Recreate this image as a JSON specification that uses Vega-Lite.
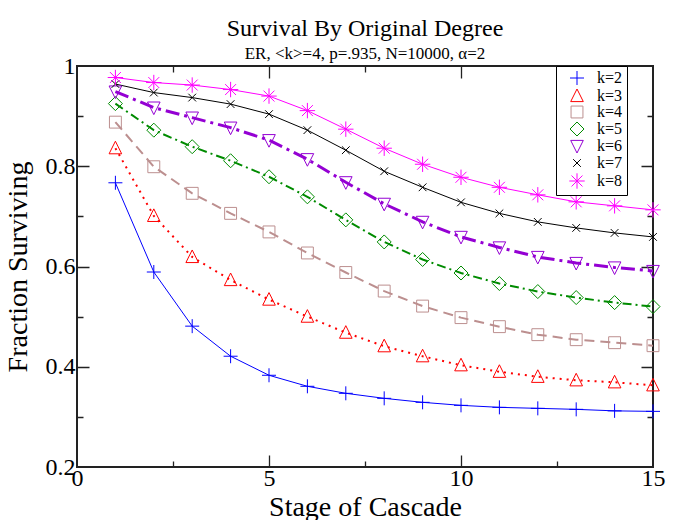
{
  "$schema": "https://vega.github.io/schema/vega-lite/v6.json",
  "width": 576,
  "height": 401,
  "autosize": {"type": "none"},
  "padding": {"left": 77, "top": 66, "right": 25, "bottom": 53},
  "title": {
    "text": "Survival By Original Degree",
    "subtitle": "ER, <k>=4, p=.935, N=10000, α=2"
  },
  "config": {
    "font": "Liberation Serif",
    "view": {"stroke": "#222222", "strokeWidth": 2},
    "title": {
      "font": "Liberation Serif", "fontSize": 24, "fontWeight": "normal", "color": "black",
      "subtitleFont": "Liberation Serif", "subtitleFontSize": 17, "subtitleColor": "black",
      "anchor": "middle", "frame": "group", "offset": -8, "subtitlePadding": 5
    },
    "axis": {
      "domain": false, "ticks": false, "labelFlush": false,
      "gridColor": "#222222", "gridOpacity": 1, "gridWidth": 1.3,
      "labelFont": "Liberation Serif", "labelFontSize": 24, "labelColor": "black",
      "titleFont": "Liberation Serif", "titleFontSize": 28, "titleFontWeight": "normal", "titleColor": "black"
    },
    "legend": {
      "labelFont": "Liberation Serif", "labelFontSize": 17, "labelColor": "black"
    }
  },
  "data": {"values": [
    {"k":"k=2","stage":1,"frac":0.767},{"k":"k=2","stage":2,"frac":0.589},{"k":"k=2","stage":3,"frac":0.481},{"k":"k=2","stage":4,"frac":0.421},{"k":"k=2","stage":5,"frac":0.383},{"k":"k=2","stage":6,"frac":0.361},{"k":"k=2","stage":7,"frac":0.347},{"k":"k=2","stage":8,"frac":0.337},{"k":"k=2","stage":9,"frac":0.329},{"k":"k=2","stage":10,"frac":0.323},{"k":"k=2","stage":11,"frac":0.319},{"k":"k=2","stage":12,"frac":0.317},{"k":"k=2","stage":13,"frac":0.315},{"k":"k=2","stage":14,"frac":0.312},{"k":"k=2","stage":15,"frac":0.311},
    {"k":"k=3","stage":1,"frac":0.836},{"k":"k=3","stage":2,"frac":0.701},{"k":"k=3","stage":3,"frac":0.619},{"k":"k=3","stage":4,"frac":0.573},{"k":"k=3","stage":5,"frac":0.534},{"k":"k=3","stage":6,"frac":0.500},{"k":"k=3","stage":7,"frac":0.468},{"k":"k=3","stage":8,"frac":0.441},{"k":"k=3","stage":9,"frac":0.421},{"k":"k=3","stage":10,"frac":0.403},{"k":"k=3","stage":11,"frac":0.390},{"k":"k=3","stage":12,"frac":0.380},{"k":"k=3","stage":13,"frac":0.373},{"k":"k=3","stage":14,"frac":0.369},{"k":"k=3","stage":15,"frac":0.363},
    {"k":"k=4","stage":1,"frac":0.888},{"k":"k=4","stage":2,"frac":0.799},{"k":"k=4","stage":3,"frac":0.746},{"k":"k=4","stage":4,"frac":0.706},{"k":"k=4","stage":5,"frac":0.669},{"k":"k=4","stage":6,"frac":0.627},{"k":"k=4","stage":7,"frac":0.588},{"k":"k=4","stage":8,"frac":0.551},{"k":"k=4","stage":9,"frac":0.521},{"k":"k=4","stage":10,"frac":0.498},{"k":"k=4","stage":11,"frac":0.480},{"k":"k=4","stage":12,"frac":0.464},{"k":"k=4","stage":13,"frac":0.454},{"k":"k=4","stage":14,"frac":0.448},{"k":"k=4","stage":15,"frac":0.442},
    {"k":"k=5","stage":1,"frac":0.925},{"k":"k=5","stage":2,"frac":0.872},{"k":"k=5","stage":3,"frac":0.839},{"k":"k=5","stage":4,"frac":0.811},{"k":"k=5","stage":5,"frac":0.779},{"k":"k=5","stage":6,"frac":0.739},{"k":"k=5","stage":7,"frac":0.693},{"k":"k=5","stage":8,"frac":0.649},{"k":"k=5","stage":9,"frac":0.614},{"k":"k=5","stage":10,"frac":0.587},{"k":"k=5","stage":11,"frac":0.566},{"k":"k=5","stage":12,"frac":0.550},{"k":"k=5","stage":13,"frac":0.538},{"k":"k=5","stage":14,"frac":0.528},{"k":"k=5","stage":15,"frac":0.520},
    {"k":"k=6","stage":1,"frac":0.949},{"k":"k=6","stage":2,"frac":0.917},{"k":"k=6","stage":3,"frac":0.897},{"k":"k=6","stage":4,"frac":0.877},{"k":"k=6","stage":5,"frac":0.852},{"k":"k=6","stage":6,"frac":0.814},{"k":"k=6","stage":7,"frac":0.768},{"k":"k=6","stage":8,"frac":0.725},{"k":"k=6","stage":9,"frac":0.689},{"k":"k=6","stage":10,"frac":0.659},{"k":"k=6","stage":11,"frac":0.638},{"k":"k=6","stage":12,"frac":0.619},{"k":"k=6","stage":13,"frac":0.607},{"k":"k=6","stage":14,"frac":0.598},{"k":"k=6","stage":15,"frac":0.591},
    {"k":"k=7","stage":1,"frac":0.964},{"k":"k=7","stage":2,"frac":0.947},{"k":"k=7","stage":3,"frac":0.937},{"k":"k=7","stage":4,"frac":0.924},{"k":"k=7","stage":5,"frac":0.904},{"k":"k=7","stage":6,"frac":0.872},{"k":"k=7","stage":7,"frac":0.832},{"k":"k=7","stage":8,"frac":0.790},{"k":"k=7","stage":9,"frac":0.758},{"k":"k=7","stage":10,"frac":0.728},{"k":"k=7","stage":11,"frac":0.706},{"k":"k=7","stage":12,"frac":0.689},{"k":"k=7","stage":13,"frac":0.677},{"k":"k=7","stage":14,"frac":0.667},{"k":"k=7","stage":15,"frac":0.659},
    {"k":"k=8","stage":1,"frac":0.977},{"k":"k=8","stage":2,"frac":0.967},{"k":"k=8","stage":3,"frac":0.962},{"k":"k=8","stage":4,"frac":0.953},{"k":"k=8","stage":5,"frac":0.940},{"k":"k=8","stage":6,"frac":0.911},{"k":"k=8","stage":7,"frac":0.874},{"k":"k=8","stage":8,"frac":0.836},{"k":"k=8","stage":9,"frac":0.804},{"k":"k=8","stage":10,"frac":0.778},{"k":"k=8","stage":11,"frac":0.758},{"k":"k=8","stage":12,"frac":0.743},{"k":"k=8","stage":13,"frac":0.729},{"k":"k=8","stage":14,"frac":0.721},{"k":"k=8","stage":15,"frac":0.713}
  ]},
  "layer": [
    {
      "transform": [{"filter": {"field": "k", "oneOf": ["k=2", "k=7", "k=8"]}}],
      "mark": {"type": "line", "clip": true, "strokeWidth": 1},
      "encoding": {
        "x": {"field": "stage", "type": "quantitative",
          "scale": {"domain": [0, 15], "nice": false, "zero": false},
          "axis": {"orient": "bottom", "values": [0, 5, 10, 15], "grid": false,
            "labelPadding": -1, "title": "Stage of Cascade", "titlePadding": 3}},
        "y": {"field": "frac", "type": "quantitative",
          "scale": {"domain": [0.2, 1], "nice": false, "zero": false},
          "axis": {"orient": "left", "values": [0.2, 0.4, 0.6, 0.8, 1], "grid": false,
            "labelExpr": "'' + datum.value",
            "labelPadding": 2, "title": "Fraction Surviving", "titlePadding": 13}},
        "color": {"field": "k", "type": "nominal",
          "scale": {"domain": ["k=2","k=3","k=4","k=5","k=6","k=7","k=8"],
            "range": ["#0000FF","#FF0000","#BC8F8F","#008B00","#9400D3","#000000","#FF00FF"]},
          "legend": {"orient": "none", "legendX": 479, "legendY": 0, "title": null,
            "fillColor": "white", "strokeColor": "black", "padding": 4, "cornerRadius": 0,
            "symbolSize": 196, "symbolStrokeWidth": 1, "symbolOffset": 9, "labelOffset": 12,
            "labelFontSize": 16, "rowPadding": 0}}
      }
    },
    {
      "transform": [{"filter": {"field": "k", "oneOf": ["k=3", "k=4", "k=5"]}}],
      "mark": {"type": "line", "clip": true, "strokeWidth": 2},
      "encoding": {
        "x": {"field": "stage", "type": "quantitative",
          "axis": {"orient": "top", "values": [5, 10], "grid": true, "gridDash": [12, 377], "labels": false, "title": null}},
        "y": {"field": "frac", "type": "quantitative",
          "axis": {"orient": "right", "values": [0.4, 0.6, 0.8], "grid": true, "gridDash": [12, 552], "labels": false, "title": null}},
        "color": {"field": "k", "type": "nominal", "legend": null},
        "strokeDash": {"field": "k", "type": "nominal", "legend": null,
          "scale": {"domain": ["k=3","k=4","k=5"],
            "range": [[2,5],[10,6],[9,4,2,4]]}}
      }
    },
    {
      "transform": [{"filter": {"field": "k", "equal": "k=6"}}],
      "mark": {"type": "line", "clip": true, "strokeWidth": 3, "strokeDash": [14, 5, 3, 5]},
      "encoding": {
        "x": {"field": "stage", "type": "quantitative",
          "axis": {"orient": "top", "values": [2.5, 7.5, 12.5], "grid": true, "gridDash": [6, 389], "labels": false, "title": null}},
        "y": {"field": "frac", "type": "quantitative",
          "axis": {"orient": "right", "values": [0.3, 0.5, 0.7, 0.9], "grid": true, "gridDash": [6, 564], "labels": false, "title": null}},
        "color": {"field": "k", "type": "nominal", "legend": null}
      }
    },
    {
      "mark": {"type": "point", "filled": false, "size": 196, "strokeWidth": 1, "opacity": 1},
      "encoding": {
        "x": {"field": "stage", "type": "quantitative", "axis": null},
        "y": {"field": "frac", "type": "quantitative", "axis": null},
        "color": {"field": "k", "type": "nominal", "legend": null},
        "shape": {"field": "k", "type": "nominal", "legend": null,
          "scale": {"domain": ["k=2","k=3","k=4","k=5","k=6","k=7","k=8"],
            "range": [
              "M-1,0L1,0M0,-1L0,1",
              "M0,-1L-0.9,0.8L0.9,0.8Z",
              "M-0.85,-0.85L0.85,-0.85L0.85,0.85L-0.85,0.85Z",
              "M0,-1L1,0L0,1L-1,0Z",
              "M0,1L-0.9,-0.8L0.9,-0.8Z",
              "M-0.55,-0.55L0.55,0.55M-0.55,0.55L0.55,-0.55",
              "M-1.1,0L1.1,0M0,-1.1L0,1.1M-0.78,-0.78L0.78,0.78M-0.78,0.78L0.78,-0.78"
            ]}}
      }
    }
  ]
}
